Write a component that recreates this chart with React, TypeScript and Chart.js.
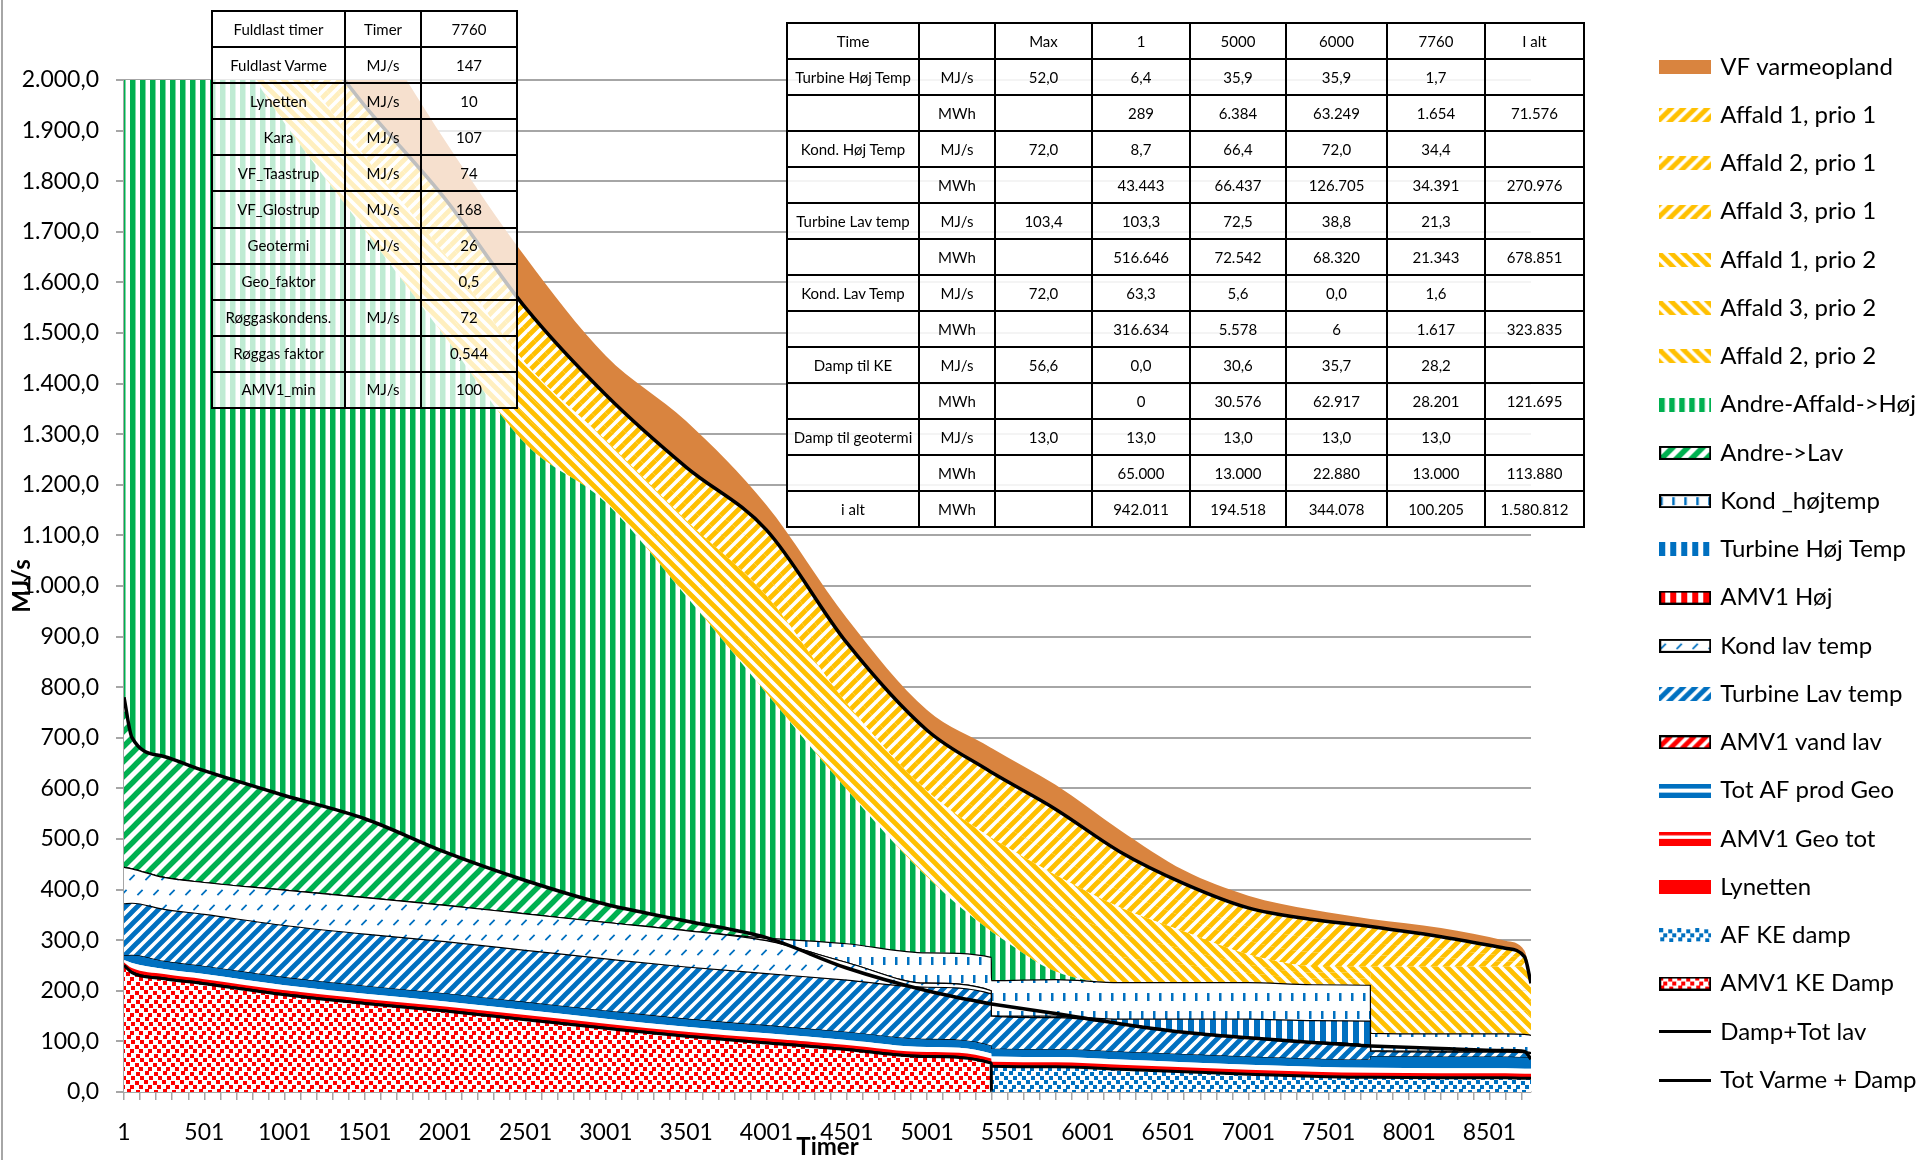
import React, { useEffect, useRef } from 'react';
import { Chart, registerables } from 'chart.js';

Chart.register(...registerables);

// ---------- data ----------
const HOURS = [1, 50, 250, 500, 1000, 1500, 2000, 2500, 3000, 3500, 4000, 4500, 5000, 5400, 5401, 5800, 6200, 6600, 7000, 7400, 7760, 7761, 8200, 8600, 8720, 8760];

// stacked layers, bottom -> top (MJ/s)
const AMV1_KE_DAMP = [250, 236, 224, 214, 192, 175, 160, 143, 126, 110, 97, 84, 70, 57, 0, 0, 0, 0, 0, 0, 0, 0, 0, 0, 0, 0];
const AF_KE_DAMP = [0, 0, 0, 0, 0, 0, 0, 0, 0, 0, 0, 0, 0, 0, 51, 50, 45, 40, 35, 31, 29, 29, 28, 28, 27, 27];
const LYNETTEN = [6, 9, 9, 9, 9, 9, 9, 9, 9, 9, 9, 9, 9, 9, 9, 9, 9, 9, 9, 9, 9, 9, 9, 9, 9, 9];
const AMV1_GEO_TOT = [5, 10, 10, 10, 10, 10, 10, 10, 10, 10, 10, 10, 10, 10, 10, 10, 10, 10, 10, 10, 10, 10, 10, 10, 10, 10];
const TOT_AF_PROD_GEO = [8, 15, 15, 15, 15, 15, 15, 15, 15, 15, 15, 15, 15, 15, 15, 15, 15, 15, 15, 15, 15, 22, 22, 22, 22, 22];
const AMV1_VAND_LAV = [0, 0, 0, 0, 0, 0, 0, 0, 0, 0, 0, 0, 0, 0, 0, 0, 0, 0, 0, 0, 0, 0, 0, 0, 0, 0];
const TURBINE_LAV = [103, 103, 103, 103, 103, 103, 103, 103, 103, 103, 103, 103, 103, 103, 65, 63, 56, 44, 38, 33, 28, 10, 10, 10, 10, 8];
const KOND_LAV = [72, 68, 63, 63, 70, 72, 72, 72, 72, 72, 65, 35, 8, 6, 0, 0, 0, 0, 0, 0, 0, 0, 0, 0, 0, 0];
const AMV1_HOJ = [0, 0, 0, 0, 0, 0, 0, 0, 0, 0, 0, 0, 0, 0, 0, 0, 0, 0, 0, 0, 0, 0, 0, 0, 0, 0];
const TURBINE_HOJ = [0, 0, 0, 0, 0, 0, 0, 0, 0, 0, 0, 0, 0, 0, 0, 3, 9, 26, 37, 43, 49, 2, 2, 2, 2, 2];
const KOND_HOJ = [0, 0, 0, 0, 0, 0, 0, 0, 0, 0, 5, 37, 60, 66, 70, 72, 72, 72, 72, 71, 71, 34, 34, 34, 34, 34];
const ANDRE_LAV = [336, 261, 239, 221, 187, 156, 105, 66, 36, 19, 1, 0, 0, 0, 0, 0, 0, 0, 0, 0, 0, 0, 0, 0, 0, 0];
const ANDRE_AFFALD_HOJ = [1520, 1599, 1587, 1515, 1329, 1163, 1018, 863, 794, 642, 483, 305, 150, 51, 96.8, 16, 0, 0, 0, 0, 0, 0, 0, 0, 0, 0];
const AFFALD2_PRIO2 = [70, 53, 31, 31, 51, 51, 57, 55, 43, 53, 67, 59, 59, 65, 65, 67, 52, 36, 19, 13, 13, 46, 46, 46, 47, 35];
const AFFALD3_PRIO2 = [60, 45, 27, 27, 43, 44, 49, 48, 37, 45, 58, 51, 51, 55, 55, 57, 45, 30, 17, 11, 11, 40, 40, 40, 40, 30];
const AFFALD1_PRIO2 = [70, 52, 32, 32, 51, 51, 57, 56, 43, 52, 68, 60, 60, 65, 65, 67, 52, 35, 20, 13, 13, 45.95, 47, 47, 47, 35];
const AFFALD3_PRIO1 = [30, 30, 18, 18, 27, 30, 33, 33, 27, 31, 39, 36, 36, 39, 39, 39, 33, 29, 27, 27, 24, 24, 18, 10, 6, 0];
const AFFALD2_PRIO1 = [30, 30, 18, 18, 27, 30, 33, 33, 27, 32, 39, 36, 36, 39, 39, 39, 33, 28, 28, 28, 23, 23, 17, 11, 5, 0];
const AFFALD1_PRIO1 = [40, 40, 24, 24, 36, 40, 44, 44, 36, 42, 52, 48, 48, 52, 52, 52, 44, 38, 37, 37, 31, 31, 23, 14, 7, 0];
const VF_VARMEOPLAND = [200, 200, 200, 200, 200, 180, 115, 100, 77, 91, 49, 49, 40, 48, 48, 48, 43, 26, 24, 19, 16, 16, 18, 16, 13, 12];

// line series (not stacked)
const DAMP_TOT_LAV = [780, 701, 663, 635, 586, 540, 474, 418, 371, 338, 305, 245, 200, 174, 173.95, 155, 135, 118, 107, 98, 91, 90.99, 86, 82, 80, 65];
const TOT_VARME_DAMP = [2600, 2550, 2400, 2300, 2150, 1949, 1765, 1550, 1378, 1235, 1111, 888, 715, 632, 631.8, 559, 475, 412, 364, 341, 327, 326.95, 307, 284, 267, 215];

const X_LABELS = ['1', '501', '1001', '1501', '2001', '2501', '3001', '3501', '4001', '4501', '5001', '5501', '6001', '6501', '7001', '7501', '8001', '8501'];

const LEFT_TABLE = [
  ['Fuldlast timer', 'Timer', '7760'],
  ['Fuldlast Varme', 'MJ/s', '147'],
  ['Lynetten', 'MJ/s', '10'],
  ['Kara', 'MJ/s', '107'],
  ['VF_Taastrup', 'MJ/s', '74'],
  ['VF_Glostrup', 'MJ/s', '168'],
  ['Geotermi', 'MJ/s', '26'],
  ['Geo_faktor', '', '0,5'],
  ['Røggaskondens.', 'MJ/s', '72'],
  ['Røggas faktor', '', '0,544'],
  ['AMV1_min', 'MJ/s', '100'],
];

const RIGHT_TABLE = [
  ['Time', '', 'Max', '1', '5000', '6000', '7760', 'I alt'],
  ['Turbine Høj Temp', 'MJ/s', '52,0', '6,4', '35,9', '35,9', '1,7', ''],
  ['', 'MWh', '', '289', '6.384', '63.249', '1.654', '71.576'],
  ['Kond. Høj Temp', 'MJ/s', '72,0', '8,7', '66,4', '72,0', '34,4', ''],
  ['', 'MWh', '', '43.443', '66.437', '126.705', '34.391', '270.976'],
  ['Turbine Lav temp', 'MJ/s', '103,4', '103,3', '72,5', '38,8', '21,3', ''],
  ['', 'MWh', '', '516.646', '72.542', '68.320', '21.343', '678.851'],
  ['Kond. Lav Temp', 'MJ/s', '72,0', '63,3', '5,6', '0,0', '1,6', ''],
  ['', 'MWh', '', '316.634', '5.578', '6', '1.617', '323.835'],
  ['Damp til KE', 'MJ/s', '56,6', '0,0', '30,6', '35,7', '28,2', ''],
  ['', 'MWh', '', '0', '30.576', '62.917', '28.201', '121.695'],
  ['Damp til geotermi', 'MJ/s', '13,0', '13,0', '13,0', '13,0', '13,0', ''],
  ['', 'MWh', '', '65.000', '13.000', '22.880', '13.000', '113.880'],
  ['i alt', 'MWh', '', '942.011', '194.518', '344.078', '100.205', '1.580.812'],
];

// ---------- styling ----------
const FONT = "Lato, 'Open Sans', sans-serif";
const YELLOW = '#FFC000';
const GREEN = '#00B050';
const BLUE = '#0070C0';
const RED = '#FF0000';
const ORANGE = '#D9843F';
const GRID = '#a6a6a6';
const LEGEND_FONT = 24;
const LEGEND_PAD = 24.24;
const LEGEND_BOX = 46;
const LEGEND_LEFT = 1638;

type Painter = (g: CanvasRenderingContext2D, w: number, h: number) => void;

function makeTile(w: number, h: number, paint: Painter): HTMLCanvasElement {
  const c = document.createElement('canvas');
  c.width = w;
  c.height = h;
  const g = c.getContext('2d')!;
  g.fillStyle = '#ffffff';
  g.fillRect(0, 0, w, h);
  paint(g, w, h);
  return c;
}

const upStripes = (color: string, lw: number): Painter => (g, s) => {
  g.strokeStyle = color;
  g.lineWidth = lw;
  g.beginPath();
  for (const k of [0, s, 2 * s]) {
    g.moveTo(k + 2, -2);
    g.lineTo(k - s - 2, s + 2);
  }
  g.stroke();
};
const downStripes = (color: string, lw: number): Painter => (g, s) => {
  g.strokeStyle = color;
  g.lineWidth = lw;
  g.beginPath();
  for (const k of [-s, 0, s]) {
    g.moveTo(k - 2, -2);
    g.lineTo(k + s + 2, s + 2);
  }
  g.stroke();
};
const vStripes = (color: string, bw: number): Painter => (g, w, h) => {
  g.fillStyle = color;
  g.fillRect(0, 0, bw, h);
};
// confetti-like squares in an 18x18 tile
const CONFETTI = [[0, 0], [9, 1], [4, 5], [13, 5], [1, 9], [10, 10], [5, 14], [14, 14]];
const dots = (color: string): Painter => (g) => {
  g.fillStyle = color;
  for (const [x, y] of CONFETTI) g.fillRect(x, y, 4, 4);
};
const vDashes: Painter = (g, w, h) => {
  g.fillStyle = BLUE;
  g.fillRect(1, 3, 2.5, 8);
  g.fillRect(1 + w / 2, 3 + h / 2, 2.5, 8);
};
const smallSlashes: Painter = (g, w, h) => {
  g.strokeStyle = BLUE;
  g.lineWidth = 1.8;
  g.beginPath();
  for (const [cx, cy] of [[4, h / 4], [12, (3 * h) / 4]]) {
    g.moveTo(cx - 2.6, cy + 2.6);
    g.lineTo(cx + 2.6, cy - 2.6);
  }
  g.stroke();
};

function fmtDa(v: number): string {
  const s = Math.round(v).toString().replace(/\B(?=(\d{3})+(?!\d))/g, '.');
  return s + ',0';
}

function swatch(paint: Painter | string, border: boolean, w = 52, h = 14): HTMLCanvasElement {
  const c = document.createElement('canvas');
  c.width = w;
  c.height = h;
  const g = c.getContext('2d')!;
  g.fillStyle = '#ffffff';
  g.fillRect(0, 0, w, h);
  if (typeof paint === 'string') {
    g.fillStyle = paint;
    g.fillRect(0, 0, w, h);
  } else {
    paint(g, w, h);
  }
  if (border) {
    g.strokeStyle = '#000';
    g.lineWidth = 2;
    g.strokeRect(1, 1, w - 2, h - 2);
  }
  return c;
}

function tilePainter(tw: number, th: number, p: Painter): Painter {
  const t = makeTile(tw, th, p);
  return (g, w, h) => {
    g.fillStyle = g.createPattern(t, 'repeat')!;
    g.fillRect(0, 0, w, h);
  };
}

function Table({ rows, left, top, widths, rowH, bg }: { rows: string[][]; left: number; top: number; widths: number[]; rowH: number; bg: string }) {
  const total = widths.reduce((a, b) => a + b, 0);
  const cell: React.CSSProperties = {
    border: '2px solid #000',
    padding: 0,
    textAlign: 'center',
    verticalAlign: 'middle',
    fontFamily: FONT,
    fontSize: 15,
    color: '#000',
    whiteSpace: 'nowrap',
    overflow: 'hidden',
    lineHeight: 1,
  };
  return (
    <table style={{ position: 'absolute', left, top, width: total, borderCollapse: 'collapse', tableLayout: 'fixed', background: bg }}>
      <colgroup>
        {widths.map((w, i) => (
          <col key={i} style={{ width: w }} />
        ))}
      </colgroup>
      <tbody>
        {rows.map((r, i) => (
          <tr key={i} style={{ height: rowH }}>
            {r.map((c, j) => (
              <td key={j} style={cell}>
                {c}
              </td>
            ))}
          </tr>
        ))}
      </tbody>
    </table>
  );
}

export default function App() {
  const ref = useRef<HTMLCanvasElement>(null);

  useEffect(() => {
    const canvas = ref.current!;
    const ctx = canvas.getContext('2d')!;
    const pat = (w: number, h: number, p: Painter) => ctx.createPattern(makeTile(w, h, p), 'repeat')!;

    const yUp = upStripes(YELLOW, 4.8);
    const yDown = downStripes(YELLOW, 4.8);
    const gUp = upStripes(GREEN, 5.5);
    const bUp = upStripes(BLUE, 4.8);
    const rUp = upStripes(RED, 4.8);

    const series: { label: string; values: number[]; bg: string | CanvasPattern; bw: number; sw: HTMLCanvasElement }[] = [
      { label: 'AMV1 KE Damp', values: AMV1_KE_DAMP, bg: pat(18, 18, dots(RED)), bw: 3, sw: swatch(tilePainter(18, 18, dots(RED)), true) },
      { label: 'AF KE damp', values: AF_KE_DAMP, bg: pat(18, 18, dots(BLUE)), bw: 3, sw: swatch(tilePainter(18, 18, dots(BLUE)), false) },
      { label: 'Lynetten', values: LYNETTEN, bg: RED, bw: 0, sw: swatch(RED, false) },
      {
        label: 'AMV1 Geo tot', values: AMV1_GEO_TOT, bg: '#ffffff', bw: 0,
        sw: swatch((g, w) => { g.fillStyle = RED; g.fillRect(0, 0, w, 3.5); g.fillRect(0, 7, w, 7); }, false),
      },
      {
        label: 'Tot AF prod Geo', values: TOT_AF_PROD_GEO, bg: BLUE, bw: 0,
        sw: swatch((g, w) => { g.fillStyle = BLUE; g.fillRect(0, 0, w, 5); g.fillRect(0, 9, w, 5); }, false),
      },
      { label: 'AMV1 vand lav', values: AMV1_VAND_LAV, bg: pat(12, 12, rUp), bw: 1.2, sw: swatch(tilePainter(12, 12, rUp), true) },
      { label: 'Turbine Lav temp', values: TURBINE_LAV, bg: pat(12, 12, bUp), bw: 1.2, sw: swatch(tilePainter(12, 12, bUp), false) },
      { label: 'Kond lav temp', values: KOND_LAV, bg: pat(16, 30, smallSlashes), bw: 1.2, sw: swatch(tilePainter(16, 30, smallSlashes), true) },
      { label: 'AMV1 Høj', values: AMV1_HOJ, bg: pat(11, 11, vStripes(RED, 6)), bw: 0, sw: swatch(tilePainter(11, 11, vStripes(RED, 6)), true) },
      { label: 'Turbine Høj Temp', values: TURBINE_HOJ, bg: pat(11, 11, vStripes(BLUE, 6)), bw: 1.2, sw: swatch(tilePainter(11, 11, vStripes(BLUE, 6)), false) },
      { label: 'Kond _højtemp', values: KOND_HOJ, bg: pat(12, 36, vDashes), bw: 1.2, sw: swatch(tilePainter(12, 36, vDashes), true) },
      { label: 'Andre->Lav', values: ANDRE_LAV, bg: pat(15, 15, gUp), bw: 0, sw: swatch(tilePainter(15, 15, gUp), true) },
      { label: 'Andre-Affald->Høj', values: ANDRE_AFFALD_HOJ, bg: pat(10, 10, vStripes(GREEN, 5.5)), bw: 0, sw: swatch(tilePainter(10, 10, vStripes(GREEN, 5.5)), false) },
      { label: 'Affald 2, prio 2', values: AFFALD2_PRIO2, bg: pat(12, 12, yDown), bw: 0, sw: swatch(tilePainter(12, 12, yDown), false) },
      { label: 'Affald 3, prio 2', values: AFFALD3_PRIO2, bg: pat(12, 12, yDown), bw: 0, sw: swatch(tilePainter(12, 12, yDown), false) },
      { label: 'Affald 1, prio 2', values: AFFALD1_PRIO2, bg: pat(12, 12, yDown), bw: 0, sw: swatch(tilePainter(12, 12, yDown), false) },
      { label: 'Affald 3, prio 1', values: AFFALD3_PRIO1, bg: pat(12, 12, yUp), bw: 0, sw: swatch(tilePainter(12, 12, yUp), false) },
      { label: 'Affald 2, prio 1', values: AFFALD2_PRIO1, bg: pat(12, 12, yUp), bw: 0, sw: swatch(tilePainter(12, 12, yUp), false) },
      { label: 'Affald 1, prio 1', values: AFFALD1_PRIO1, bg: pat(12, 12, yUp), bw: 0, sw: swatch(tilePainter(12, 12, yUp), false) },
      { label: 'VF varmeopland', values: VF_VARMEOPLAND, bg: ORANGE, bw: 0, sw: swatch(ORANGE, false) },
    ];

    const lineSwatch = swatch('#000', false, 52, 3);

    const datasets: any[] = series.map((s, i) => ({
      type: 'line',
      label: s.label,
      data: HOURS.map((h, j) => ({ x: h, y: s.values[j] })),
      backgroundColor: s.bg,
      borderColor: s.bw ? '#000' : 'rgba(0,0,0,0)',
      borderWidth: s.bw,
      fill: i === 0 ? 'origin' : '-1',
      stack: 'areas',
      order: 0,
      pointRadius: 0,
      pointHoverRadius: 0,
      cubicInterpolationMode: 'monotone',
      segment: i === 0
        ? { borderColor: (c: any) => (s.values[c.p0DataIndex] === 0 && s.values[c.p1DataIndex] === 0 ? 'rgba(0,0,0,0)' : '#000') }
        : undefined,
    }));

    datasets.push({
      type: 'line',
      label: 'Damp+Tot lav',
      data: HOURS.map((h, j) => ({ x: h, y: DAMP_TOT_LAV[j] })),
      borderColor: '#000',
      borderWidth: 3.5,
      backgroundColor: '#000',
      fill: false,
      stack: 'line1',
      order: -1,
      pointRadius: 0,
      cubicInterpolationMode: 'monotone',
    });
    datasets.push({
      type: 'line',
      label: 'Tot Varme + Damp',
      data: HOURS.map((h, j) => ({ x: h, y: TOT_VARME_DAMP[j] })),
      borderColor: '#000',
      borderWidth: 3.5,
      backgroundColor: '#000',
      fill: false,
      stack: 'line2',
      order: -1,
      pointRadius: 0,
      cubicInterpolationMode: 'monotone',
    });

    const legendOrder = [19, 18, 17, 16, 15, 14, 13, 12, 11, 10, 9, 8, 7, 6, 5, 4, 3, 2, 1, 0, 20, 21];
    const swatches = [...series.map((s) => s.sw), lineSwatch, lineSwatch];

    // width the legend box will ask for, so that it starts at LEGEND_LEFT
    ctx.font = `${LEGEND_FONT}px ${FONT}`;
    const maxText = Math.max(...datasets.map((d) => ctx.measureText(d.label).width));
    const legendWidth = LEGEND_PAD + LEGEND_BOX + LEGEND_FONT / 2 + maxText + 10;
    const padRight = 1921 - LEGEND_LEFT - legendWidth;

    const minorTicks: number[] = [];
    for (let v = 1; v <= 8760; v += 100) minorTicks.push(v);

    const chart = new Chart(ctx, {
      type: 'line',
      data: { datasets },
      options: {
        responsive: false,
        animation: false,
        events: [],
        layout: { padding: { top: 0, right: padRight, bottom: 13, left: 0 } },
        plugins: {
          tooltip: { enabled: false },
          filler: { propagate: false },
          legend: {
            display: true,
            position: 'right',
            align: 'center',
            maxWidth: 2000,
            labels: {
              usePointStyle: true,
              pointStyleWidth: LEGEND_BOX,
              boxHeight: 14,
              padding: LEGEND_PAD,
              color: '#000',
              font: { family: FONT, size: LEGEND_FONT },
              generateLabels: () =>
                legendOrder.map((di) => ({
                  text: datasets[di].label,
                  fillStyle: '#000',
                  strokeStyle: '#000',
                  lineWidth: 0,
                  hidden: false,
                  pointStyle: swatches[di],
                  datasetIndex: di,
                })) as any,
            },
          },
        },
        scales: {
          x: {
            type: 'linear',
            position: 'bottom',
            min: 1,
            max: 8760,
            afterBuildTicks: (scale: any) => {
              scale.ticks = minorTicks.map((v) => ({ value: v }));
            },
            afterFit: (scale: any) => {
              scale.height = 55;
            },
            ticks: {
              autoSkip: false,
              maxRotation: 0,
              minRotation: 0,
              padding: 19,
              color: '#000',
              font: { family: FONT, size: 23 },
              callback: (v: any) => (X_LABELS.includes(String(v)) ? String(v) : ''),
            },
            grid: { drawOnChartArea: false, drawTicks: true, tickLength: 8, color: GRID, lineWidth: 1.5 },
            border: { display: true, color: GRID, width: 1.5 },
            title: {
              display: true,
              text: 'Timer',
              color: '#000',
              font: { family: FONT, size: 24, weight: 'bold' },
              padding: { top: 0, bottom: -15 },
            },
          },
          y: {
            type: 'linear',
            stacked: true,
            min: 0,
            max: 2000,
            afterFit: (scale: any) => {
              scale.width = 124;
            },
            ticks: {
              stepSize: 100,
              autoSkip: false,
              padding: 17,
              color: '#000',
              font: { family: FONT, size: 23 },
              callback: (v: any) => fmtDa(Number(v)),
            },
            grid: { color: GRID, lineWidth: 2, tickLength: 8, drawTicks: true },
            border: { display: true, color: GRID, width: 2 },
            title: {
              display: true,
              text: 'MJ/s',
              color: '#000',
              font: { family: FONT, size: 24, weight: 'bold' },
              padding: { top: 8, bottom: 0 },
            },
          },
          x2: {
            type: 'linear',
            position: 'top',
            display: true,
            min: 0,
            max: 1,
            ticks: { display: false },
            grid: { display: false },
            border: { display: false },
            afterFit: (scale: any) => {
              scale.height = 80;
            },
          },
          y2: {
            type: 'linear',
            position: 'right',
            display: true,
            min: 0,
            max: 1,
            ticks: { display: false },
            grid: { display: false },
            border: { display: false },
            afterFit: (scale: any) => {
              scale.width = 107;
            },
          },
        },
      } as any,
    });

    return () => chart.destroy();
  }, []);

  return (
    <div style={{ position: 'fixed', left: 0, top: 0, width: 1921, height: 1160, background: '#ffffff', overflow: 'hidden' }}>
      <canvas ref={ref} width={1921} height={1160} style={{ position: 'absolute', left: 0, top: 0, width: 1921, height: 1160 }} />
      <div style={{ position: 'absolute', left: 1, top: 0, width: 2, height: 1160, background: GRID }} />
      <Table rows={LEFT_TABLE} left={211} top={10} widths={[133, 76, 96]} rowH={36.1} bg="rgba(255,255,255,0.75)" />
      <Table rows={RIGHT_TABLE} left={786} top={22} widths={[132, 76, 97, 98, 96, 101, 98, 99]} rowH={36} bg="rgba(255,255,255,0.88)" />
    </div>
  );
}
